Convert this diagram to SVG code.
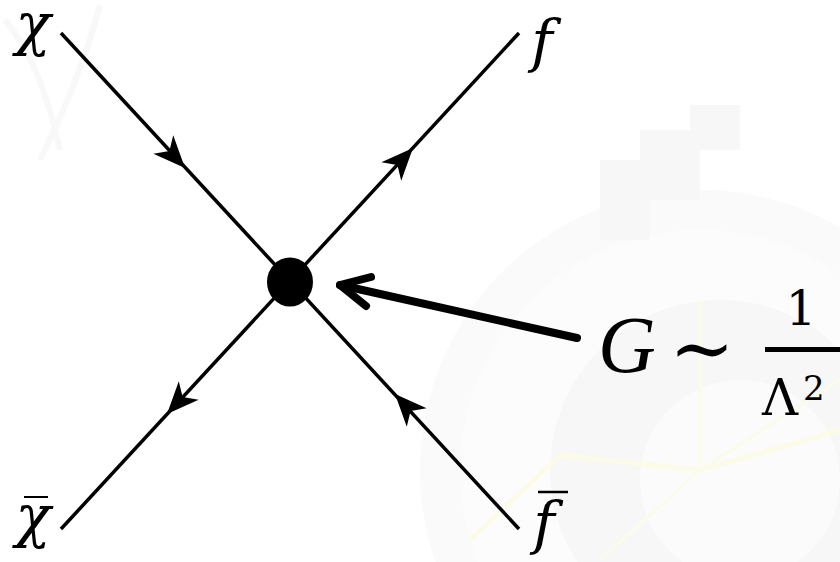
<svg xmlns="http://www.w3.org/2000/svg" width="840" height="562" viewBox="0 0 840 562">
  <style>
    .prop { stroke: #000; stroke-width: 3.5; fill: none; stroke-linecap: butt; }
    .lbl { font-family: "DejaVu Serif", "Liberation Serif", serif; font-style: italic; fill: #000; }
    .gl { font-family: "Liberation Serif", "DejaVu Serif", serif; font-style: italic; fill: #000; }
    .math { font-family: "DejaVu Serif", "Liberation Serif", serif; fill: #000; }
  </style>
  <defs>
    <path id="ah" d="M0,0 L-32,-13.5 L-23,0 L-32,13.5 Z" fill="#000"/>
  </defs>
  <rect width="840" height="562" fill="#fff"/>
  <g id="watermark">
    <circle cx="700" cy="470" r="280" fill="#fafafa"/>
    <circle cx="700" cy="470" r="240" fill="#fcfcfc"/>
    <circle cx="720" cy="470" r="170" fill="#f7f7f7"/>
    <circle cx="740" cy="480" r="100" fill="#fbfbfb"/>
    <path d="M600,160 L640,160 L640,130 L690,130 L690,105 L740,105 L740,150 L700,150 L700,200 L650,200 L650,240 L600,240 Z" fill="#f7f7f7"/>
    <path d="M470,540 L560,455 L700,470 L840,430" stroke="#fbfbe8" stroke-width="5" fill="none"/>
    <path d="M700,470 L700,300 M700,470 L840,380 M700,470 L600,560" stroke="#fbfbea" stroke-width="3" fill="none"/>
    <path d="M5,20 Q40,60 60,150 M100,5 Q80,80 40,160" stroke="#f8f8f8" stroke-width="6" fill="none"/>
  </g>
  <g id="connectors">
    <line class="prop" x1="61" y1="33" x2="519" y2="529"/>
    <line class="prop" x1="519" y1="33" x2="61" y2="529"/>
    <use href="#ah" transform="translate(185,168) rotate(47.3)"/>
    <use href="#ah" transform="translate(413,148) rotate(-47.3)"/>
    <use href="#ah" transform="translate(167,414) rotate(132.7)"/>
    <use href="#ah" transform="translate(395,394) rotate(227.3)"/>
    <g stroke="#000" stroke-width="8" stroke-linecap="round" stroke-linejoin="round" fill="none">
      <line x1="577" y1="338" x2="340" y2="285"/>
      <polyline points="371,277 340,285 366,306"/>
    </g>
  </g>
  <g id="vertex">
    <ellipse cx="290" cy="282" rx="23" ry="24.5" fill="#000"/>
  </g>
  <g id="chi">
    <text class="lbl" x="33" y="44" font-size="58" text-anchor="middle">χ</text>
  </g>
  <g id="f">
    <text class="lbl" x="542" y="61" font-size="58" text-anchor="middle">f</text>
  </g>
  <g id="chibar">
    <line x1="24" y1="497" x2="48" y2="497" stroke="#000" stroke-width="2"/>
    <text class="lbl" x="33" y="536" font-size="58" text-anchor="middle">χ</text>
  </g>
  <g id="fbar">
    <line x1="538" y1="492" x2="568" y2="492" stroke="#000" stroke-width="2.5"/>
    <text class="lbl" x="544" y="543" font-size="58" text-anchor="middle">f</text>
  </g>
  <g id="coupling">
    <text class="gl" x="598" y="372" font-size="80">G</text>
    <text class="math" x="702" y="375" font-size="78" text-anchor="middle">∼</text>
    <rect x="765" y="347" width="80" height="5" fill="#000"/>
    <text class="math" x="801" y="325" font-size="48" text-anchor="middle">1</text>
    <text class="math" x="762" y="415" font-size="50">Λ</text>
    <text class="math" x="803" y="400" font-size="34">2</text>
  </g>
</svg>
